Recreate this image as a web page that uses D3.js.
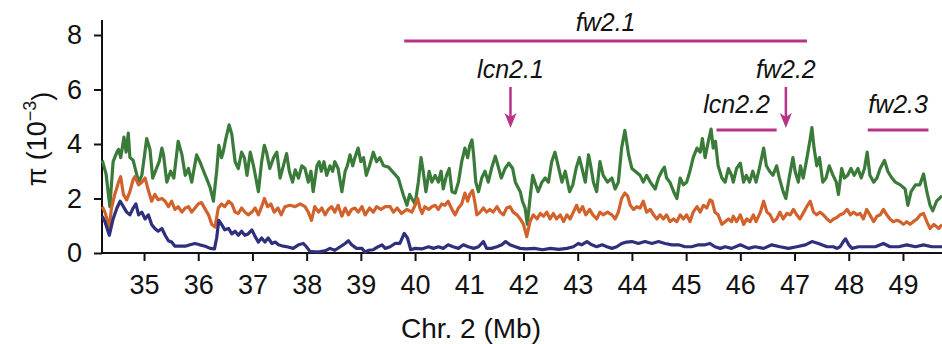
<!DOCTYPE html>
<html>
<head>
<meta charset="utf-8">
<script src="https://cdn.jsdelivr.net/npm/d3@7"></script>
<style>
  html, body { margin: 0; padding: 0; background: #fff; }
  svg { display: block; font-family: "Liberation Sans", Arial, Helvetica, sans-serif; }
</style>
</head>
<body>
<div id="chart"></div>
<script>
// Nucleotide diversity (pi, x10^-3) along chromosome 2, pairs of [Mb, pi]
var pim = [[34.23,3.4],[34.3,2.9],[34.37,1.7],[34.43,3.35],[34.5,3.7],[34.53,3.8],[34.57,3.5],[34.63,4.25],[34.67,3.7],[34.71,4.4],[34.74,3.5],[34.8,3.4],[34.9,2.6],[34.96,2.85],[35.05,4.2],[35.11,3.8],[35.16,2.75],[35.23,3.1],[35.28,3.35],[35.33,3.85],[35.36,3.6],[35.42,2.6],[35.49,3.0],[35.55,2.75],[35.63,4.1],[35.7,3.6],[35.76,2.85],[35.82,3.1],[35.88,2.6],[35.97,3.6],[36.03,3.35],[36.1,3.0],[36.16,2.7],[36.22,2.4],[36.28,1.9],[36.34,3.0],[36.38,3.95],[36.43,3.5],[36.46,3.7],[36.51,4.2],[36.57,4.7],[36.62,4.35],[36.68,3.35],[36.74,3.1],[36.8,3.7],[36.85,3.5],[36.9,2.85],[36.96,3.7],[37.02,3.2],[37.11,2.25],[37.17,3.35],[37.22,3.95],[37.26,3.7],[37.32,3.1],[37.39,3.5],[37.45,3.7],[37.51,2.75],[37.57,3.2],[37.63,3.65],[37.68,3.0],[37.74,2.6],[37.79,3.05],[37.85,2.75],[37.91,3.2],[37.97,3.1],[38.03,2.6],[38.08,3.0],[38.12,2.25],[38.19,3.2],[38.23,3.35],[38.27,3.0],[38.32,3.35],[38.37,2.85],[38.43,3.2],[38.48,3.0],[38.52,3.35],[38.58,3.1],[38.65,2.25],[38.71,3.0],[38.75,3.2],[38.8,3.6],[38.85,3.2],[38.89,3.5],[38.95,3.85],[39.0,3.35],[39.05,3.5],[39.1,2.85],[39.16,3.2],[39.23,3.7],[39.29,3.35],[39.35,3.5],[39.42,3.2],[39.51,3.15],[39.6,2.95],[39.69,2.75],[39.78,2.15],[39.85,1.75],[39.9,2.15],[39.94,2.0],[40.0,1.8],[40.06,2.6],[40.11,3.5],[40.15,3.0],[40.2,2.25],[40.26,3.0],[40.31,2.6],[40.37,2.85],[40.43,2.6],[40.48,3.0],[40.52,2.35],[40.58,2.85],[40.63,3.1],[40.68,2.25],[40.74,2.2],[40.8,2.6],[40.86,3.35],[40.92,3.85],[40.97,3.5],[41.01,3.95],[41.05,4.15],[41.08,3.6],[41.12,2.6],[41.17,2.25],[41.23,2.75],[41.29,3.0],[41.35,2.6],[41.41,3.1],[41.48,3.55],[41.53,3.2],[41.59,2.75],[41.66,3.1],[41.73,3.3],[41.8,3.1],[41.85,2.6],[41.94,2.25],[41.98,1.9],[42.03,1.65],[42.07,1.05],[42.12,2.0],[42.17,2.85],[42.21,2.6],[42.27,2.25],[42.34,2.6],[42.4,2.75],[42.46,2.6],[42.52,3.35],[42.58,3.7],[42.64,3.2],[42.71,2.6],[42.77,3.0],[42.85,2.25],[42.91,2.5],[42.97,3.1],[43.03,3.5],[43.08,3.1],[43.14,2.6],[43.2,3.6],[43.24,3.2],[43.29,2.6],[43.35,2.25],[43.41,3.35],[43.47,2.85],[43.55,2.6],[43.63,2.75],[43.69,2.35],[43.75,2.6],[43.81,3.85],[43.87,4.5],[43.94,3.6],[44.0,3.1],[44.06,3.0],[44.15,2.85],[44.21,2.6],[44.27,2.85],[44.34,2.6],[44.43,2.35],[44.49,2.75],[44.55,3.0],[44.6,3.15],[44.64,2.75],[44.7,2.6],[44.77,2.25],[44.83,2.0],[44.89,2.75],[44.95,2.5],[45.01,2.6],[45.07,3.0],[45.13,3.5],[45.2,3.85],[45.26,3.7],[45.3,4.2],[45.35,3.5],[45.41,4.1],[45.46,4.55],[45.5,3.85],[45.54,4.1],[45.59,3.2],[45.66,2.75],[45.72,2.6],[45.78,3.1],[45.84,2.85],[45.87,2.6],[45.93,3.1],[46.0,3.3],[46.06,2.6],[46.11,2.85],[46.17,2.6],[46.23,3.0],[46.29,2.6],[46.35,3.1],[46.43,3.85],[46.48,3.2],[46.54,3.0],[46.6,2.85],[46.67,3.2],[46.72,2.75],[46.79,2.25],[46.84,2.0],[46.9,2.75],[46.97,3.5],[47.01,3.0],[47.07,2.6],[47.11,3.2],[47.16,2.75],[47.23,3.5],[47.29,4.2],[47.32,4.6],[47.36,3.85],[47.41,3.2],[47.46,3.5],[47.52,2.6],[47.58,2.75],[47.64,3.2],[47.71,2.85],[47.77,2.6],[47.81,2.15],[47.87,3.1],[47.92,2.75],[47.98,2.85],[48.04,3.1],[48.1,2.85],[48.17,3.1],[48.23,2.75],[48.29,3.1],[48.34,3.7],[48.39,2.85],[48.46,2.6],[48.52,2.75],[48.58,3.1],[48.66,3.4],[48.72,3.0],[48.78,2.8],[48.86,2.6],[48.95,2.5],[49.04,2.35],[49.09,1.75],[49.15,2.25],[49.23,2.5],[49.31,2.5],[49.38,2.9],[49.44,2.25],[49.5,1.75],[49.55,1.55],[49.62,1.9],[49.72,2.1]];

var cer = [[34.23,1.7],[34.28,1.5],[34.36,0.95],[34.4,1.65],[34.46,2.15],[34.53,2.6],[34.57,2.8],[34.62,2.15],[34.68,1.95],[34.74,2.25],[34.8,2.7],[34.83,2.8],[34.9,2.5],[34.96,2.6],[35.02,2.75],[35.08,2.3],[35.14,1.9],[35.2,2.15],[35.26,1.95],[35.33,2.0],[35.39,1.9],[35.45,1.7],[35.51,1.9],[35.57,1.6],[35.63,1.7],[35.7,1.5],[35.76,1.65],[35.82,1.7],[35.88,1.5],[35.94,1.65],[36.0,1.8],[36.06,1.85],[36.13,1.6],[36.19,1.4],[36.25,1.05],[36.31,0.95],[36.37,1.65],[36.43,1.8],[36.49,1.7],[36.56,1.9],[36.62,1.8],[36.68,1.5],[36.74,1.45],[36.8,1.65],[36.86,1.5],[36.92,1.4],[36.99,1.5],[37.05,1.65],[37.11,1.4],[37.17,1.7],[37.22,2.0],[37.28,1.7],[37.34,1.8],[37.4,1.5],[37.47,1.65],[37.53,1.4],[37.6,1.7],[37.69,1.75],[37.79,1.7],[37.88,1.8],[37.97,1.7],[38.03,1.5],[38.09,1.2],[38.15,1.7],[38.22,1.5],[38.28,1.65],[38.34,1.4],[38.4,1.6],[38.46,1.7],[38.52,1.5],[38.58,1.75],[38.65,1.35],[38.71,1.65],[38.77,1.4],[38.83,1.6],[38.89,1.65],[38.95,1.5],[39.02,1.7],[39.08,1.4],[39.16,1.65],[39.23,1.5],[39.29,1.7],[39.37,1.6],[39.45,1.7],[39.54,1.7],[39.6,1.5],[39.67,1.65],[39.75,1.45],[39.85,1.6],[39.94,1.5],[40.0,1.75],[40.05,2.0],[40.09,1.65],[40.13,1.45],[40.18,1.7],[40.25,1.6],[40.31,1.7],[40.37,1.75],[40.43,1.6],[40.49,1.8],[40.55,1.75],[40.61,1.9],[40.68,1.6],[40.74,1.4],[40.8,1.65],[40.86,1.8],[40.92,2.2],[40.97,1.9],[41.01,2.15],[41.06,2.3],[41.1,1.9],[41.14,1.4],[41.2,1.5],[41.26,1.65],[41.32,1.5],[41.38,1.6],[41.44,1.5],[41.51,1.7],[41.57,1.5],[41.63,1.4],[41.69,1.65],[41.75,1.7],[41.81,1.5],[41.88,1.4],[41.94,1.25],[42.0,1.05],[42.06,0.6],[42.12,1.15],[42.18,1.4],[42.25,1.25],[42.31,1.45],[42.37,1.35],[42.43,1.5],[42.49,1.25],[42.55,1.45],[42.61,1.25],[42.68,1.4],[42.74,1.15],[42.8,1.4],[42.86,1.25],[42.92,1.5],[42.98,1.75],[43.03,1.5],[43.09,1.7],[43.15,1.4],[43.22,1.6],[43.28,1.4],[43.35,1.25],[43.41,1.5],[43.47,1.4],[43.55,1.5],[43.63,1.4],[43.69,1.25],[43.75,1.5],[43.81,2.0],[43.87,2.2],[43.92,2.1],[43.97,1.75],[44.03,1.6],[44.09,1.7],[44.15,1.65],[44.21,1.9],[44.27,1.5],[44.34,1.6],[44.4,1.4],[44.46,1.25],[44.52,1.4],[44.58,1.25],[44.64,1.4],[44.7,1.15],[44.77,1.25],[44.83,1.15],[44.89,1.4],[44.95,1.25],[45.01,1.4],[45.07,1.15],[45.13,1.5],[45.2,1.7],[45.26,1.5],[45.32,1.75],[45.38,1.65],[45.44,1.95],[45.48,1.9],[45.53,1.5],[45.59,1.4],[45.66,1.05],[45.72,1.15],[45.78,1.25],[45.84,1.15],[45.87,1.35],[45.93,1.15],[46.0,1.4],[46.06,1.05],[46.12,1.25],[46.18,1.15],[46.24,1.4],[46.29,1.15],[46.37,1.5],[46.43,1.9],[46.49,1.5],[46.55,1.4],[46.61,1.15],[46.67,1.25],[46.73,1.5],[46.79,1.25],[46.86,1.45],[46.92,1.4],[46.98,1.6],[47.04,1.4],[47.1,1.25],[47.17,1.5],[47.24,1.75],[47.29,1.9],[47.35,1.5],[47.41,1.4],[47.47,1.5],[47.53,1.4],[47.6,1.25],[47.66,1.15],[47.72,1.25],[47.78,1.3],[47.84,1.4],[47.9,1.45],[47.97,1.6],[48.03,1.4],[48.09,1.5],[48.15,1.4],[48.21,1.45],[48.27,1.25],[48.33,1.6],[48.39,1.4],[48.46,1.15],[48.52,1.35],[48.58,1.4],[48.64,1.6],[48.7,1.4],[48.76,1.25],[48.82,1.15],[48.89,1.2],[48.95,1.15],[49.01,1.05],[49.07,1.15],[49.13,1.05],[49.19,1.15],[49.26,1.25],[49.32,1.4],[49.38,1.45],[49.44,1.15],[49.5,0.9],[49.57,1.05],[49.66,0.9],[49.72,1.05]];

var big = [[34.23,1.35],[34.28,1.15],[34.36,0.65],[34.43,1.25],[34.5,1.65],[34.56,1.9],[34.62,1.7],[34.68,1.5],[34.74,1.4],[34.8,1.65],[34.85,1.8],[34.9,1.4],[34.96,1.5],[35.02,1.25],[35.08,1.4],[35.14,1.05],[35.2,0.9],[35.26,0.8],[35.33,0.9],[35.39,0.65],[35.45,0.45],[35.51,0.4],[35.57,0.25],[35.66,0.25],[35.76,0.25],[35.85,0.3],[35.94,0.35],[36.03,0.3],[36.13,0.25],[36.22,0.17],[36.3,0.15],[36.34,0.55],[36.38,1.2],[36.43,1.05],[36.49,0.85],[36.56,0.9],[36.62,0.7],[36.68,0.8],[36.74,0.65],[36.8,0.8],[36.86,0.65],[36.92,0.7],[36.99,0.85],[37.05,0.6],[37.11,0.4],[37.17,0.55],[37.23,0.4],[37.29,0.55],[37.36,0.35],[37.42,0.4],[37.48,0.3],[37.57,0.25],[37.66,0.22],[37.75,0.17],[37.85,0.3],[37.94,0.35],[38.0,0.22],[38.06,0.06],[38.15,0.04],[38.25,0.05],[38.34,0.08],[38.43,0.17],[38.52,0.1],[38.62,0.23],[38.71,0.35],[38.77,0.45],[38.83,0.3],[38.92,0.17],[39.02,0.17],[39.08,0.03],[39.14,0.1],[39.23,0.12],[39.32,0.23],[39.39,0.3],[39.45,0.17],[39.54,0.23],[39.63,0.35],[39.72,0.35],[39.8,0.72],[39.86,0.55],[39.92,0.12],[40.0,0.17],[40.12,0.15],[40.25,0.23],[40.34,0.17],[40.43,0.23],[40.52,0.17],[40.61,0.3],[40.7,0.23],[40.8,0.17],[40.89,0.3],[40.98,0.23],[41.08,0.17],[41.17,0.23],[41.26,0.42],[41.32,0.17],[41.41,0.17],[41.51,0.23],[41.6,0.3],[41.67,0.42],[41.75,0.3],[41.85,0.23],[41.94,0.17],[42.05,0.15],[42.2,0.17],[42.35,0.12],[42.5,0.17],[42.65,0.13],[42.8,0.17],[42.92,0.23],[43.01,0.35],[43.07,0.3],[43.17,0.42],[43.26,0.3],[43.35,0.23],[43.45,0.3],[43.54,0.23],[43.63,0.17],[43.72,0.23],[43.81,0.35],[43.9,0.4],[44.0,0.42],[44.12,0.35],[44.24,0.42],[44.37,0.35],[44.49,0.42],[44.61,0.35],[44.74,0.3],[44.86,0.3],[44.98,0.23],[45.1,0.23],[45.23,0.3],[45.35,0.3],[45.44,0.35],[45.53,0.23],[45.63,0.17],[45.72,0.23],[45.84,0.17],[46.0,0.3],[46.15,0.17],[46.27,0.23],[46.43,0.17],[46.58,0.3],[46.73,0.23],[46.89,0.17],[47.04,0.23],[47.2,0.3],[47.32,0.42],[47.44,0.35],[47.6,0.23],[47.72,0.23],[47.78,0.17],[47.84,0.23],[47.9,0.42],[47.94,0.52],[48.0,0.3],[48.06,0.17],[48.18,0.23],[48.33,0.23],[48.49,0.23],[48.64,0.35],[48.76,0.23],[48.92,0.23],[49.07,0.3],[49.23,0.23],[49.38,0.3],[49.53,0.23],[49.72,0.23]];

var xTicks = [35, 36, 37, 38, 39, 40, 41, 42, 43, 44, 45, 46, 47, 48, 49];
var yTicks = [0, 2, 4, 6, 8];

// QTL intervals (Mb) and single gene positions (Mb)
var qtlNames = ["fw2.1", "lcn2.2", "fw2.3"];
var qtlStart = [39.8, 45.56, 48.35];
var qtlEnd = [47.23, 46.67, 49.47];
var geneNames = ["lcn2.1", "fw2.2"];
var genePos = [41.76, 46.84];

// Chart size
var W = 942, H = 344;
var margin = {left: 102, right: 0, top: 35, bottom: 91};
var magenta = "#b83385";

var svg = d3.select("#chart")
            .append("svg")
                .attr("width", W)
                .attr("height", H)

var x = d3.scaleLinear()
          .domain([34.225, 49.72])
          .range([margin.left, W - margin.right])

var y = d3.scaleLinear()
          .domain([0, 8])
          .range([H - margin.bottom, margin.top])

// Axes (domain lines are drawn by hand so they meet at the corner)
var xAxis = svg.append("g")
    .attr("transform", `translate(0, ${y(0)})`)
    .call(d3.axisBottom(x).tickValues(xTicks).tickSize(8).tickSizeOuter(0).tickPadding(14))
xAxis.select(".domain").remove()

var yAxis = svg.append("g")
    .attr("transform", `translate(${x.range()[0]}, 0)`)
    .call(d3.axisLeft(y).tickValues(yTicks).tickSize(8).tickSizeOuter(0).tickPadding(12))
yAxis.select(".domain").remove()

svg.selectAll(".tick line")
   .attr("stroke", "#111")
   .attr("stroke-width", 2)
svg.selectAll(".tick text")
   .attr("fill", "#111")
   .style("font-size", "27px")

svg.append("line")
   .attr("x1", x.range()[0]).attr("x2", W)
   .attr("y1", y(0)).attr("y2", y(0))
   .attr("stroke", "#111").attr("stroke-width", 2)
svg.append("line")
   .attr("x1", x.range()[0]).attr("x2", x.range()[0])
   .attr("y1", 20).attr("y2", y(0) + 1)
   .attr("stroke", "#111").attr("stroke-width", 2)

// Axis titles
svg.append("text")
   .attr("x", 471)
   .attr("y", 338)
   .attr("text-anchor", "middle")
   .style("font-size", "28px")
   .attr("fill", "#111")
   .text("Chr. 2 (Mb)")

var ylab = svg.append("text")
   .attr("transform", `translate(46, ${y(4) - 5}) rotate(-90)`)
   .attr("text-anchor", "middle")
   .style("font-size", "27px")
   .attr("fill", "#111")
ylab.append("tspan").text("\u03c0 (10")
ylab.append("tspan").attr("dy", "-0.55em").style("font-size", "18px").text("\u22123")
ylab.append("tspan").attr("dy", "0.55em").text(")")

// Diversity lines
var line = d3.line()
             .x(function(d) { return x(d[0]) })
             .y(function(d) { return y(d[1]) })

var series = [[pim, "#3b7b3a"], [cer, "#d2622c"], [big, "#2e307c"]];
series.forEach(function(s) {
    svg.append("path")
       .datum(s[0])
       .attr("d", line)
       .attr("fill", "none")
       .attr("stroke", s[1])
       .attr("stroke-width", 3.2)
       .attr("stroke-linejoin", "round")
});

// QTL bars with labels (first one sits on the top row)
var barY = [41, 130, 130];
var labY = [31, 113, 113];
var labShift = [0, -10, 0];
qtlNames.forEach(function(name, i) {
    svg.append("line")
       .attr("x1", x(qtlStart[i])).attr("x2", x(qtlEnd[i]))
       .attr("y1", barY[i]).attr("y2", barY[i])
       .attr("stroke", magenta).attr("stroke-width", 3)
    svg.append("text")
       .attr("x", (x(qtlStart[i]) + x(qtlEnd[i])) / 2 + labShift[i])
       .attr("y", labY[i])
       .attr("text-anchor", "middle")
       .style("font-size", "25px")
       .style("font-style", "italic")
       .attr("fill", "#111")
       .text(name)
});

// Gene arrows
geneNames.forEach(function(name, i) {
    var gx = x(genePos[i]);
    svg.append("line")
       .attr("x1", gx).attr("x2", gx)
       .attr("y1", 87).attr("y2", 120)
       .attr("stroke", magenta).attr("stroke-width", 2.5)
    svg.append("path")
       .attr("d", `M${gx},128 L${gx - 6},113 L${gx},117 L${gx + 6},113 Z`)
       .attr("fill", magenta)
    svg.append("text")
       .attr("x", gx)
       .attr("y", 78)
       .attr("text-anchor", "middle")
       .style("font-size", "25px")
       .style("font-style", "italic")
       .attr("fill", "#111")
       .text(name)
});
</script>
</body>
</html>
